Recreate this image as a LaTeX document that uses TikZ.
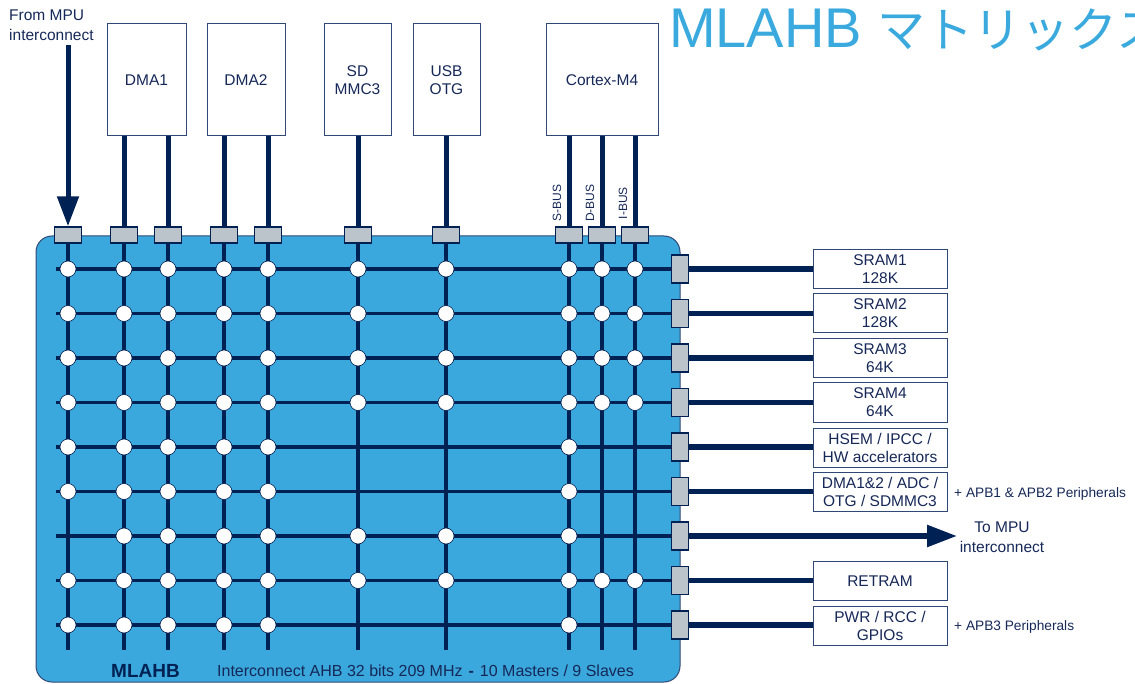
\documentclass[tikz,border=0pt]{standalone}
\usepackage{fontspec}
\setmainfont{Liberation Sans}
\newfontfamily\jpfont{Noto Sans CJK JP}
\usetikzlibrary{arrows.meta}
\definecolor{navy}{RGB}{0,33,84}
\definecolor{mlblue}{RGB}{58,168,220}
\definecolor{portgray}{RGB}{187,196,202}
\definecolor{txtnavy}{RGB}{22,40,88}
\definecolor{boxline}{RGB}{48,72,118}
\definecolor{titleblue}{RGB}{58,170,222}
\pgfdeclarelayer{back}
\pgfdeclarelayer{wires}
\pgfsetlayers{back,wires,main}
\tikzset{
  master/.style={draw=boxline, fill=white, line width=1pt, minimum height=112pt,
    inner sep=0pt, align=center, text=txtnavy, font=\fontsize{15.5}{18.5}\selectfont},
  slave/.style={draw=boxline, fill=white, line width=1pt, minimum width=134pt,
    minimum height=39pt, inner sep=0pt, align=center, text=txtnavy,
    font=\fontsize{15.5}{18}\selectfont},
  mport/.style={draw=navy, fill=portgray, line width=1.4pt, minimum width=27pt,
    minimum height=16pt, inner sep=0pt},
  sport/.style={mport, minimum width=17pt, minimum height=28pt},
  xdot/.style={circle, draw=navy, fill=white, line width=0.6pt, minimum size=16pt,
    inner sep=0pt},
  bus/.style={draw=navy, line width=5pt},
  wire/.style={draw=navy, line width=3.8pt},
  bigtip/.style={-{Triangle[length=30pt,width=21pt]}},
  labeltxt/.style={text=txtnavy, inner sep=0pt, font=\fontsize{15.5}{19.5}\selectfont},
  smalltxt/.style={text=txtnavy, inner sep=0pt, font=\fontsize{13.7}{16}\selectfont},
  buslbl/.style={text=txtnavy, inner sep=0pt, rotate=90, font=\fontsize{12}{14}\selectfont},
}
\begin{document}
\begin{tikzpicture}[x=1pt, y=-1pt]
    \path[use as bounding box, clip] (0,0) rectangle (1135,684);
    % Tiêu đề
    \node[anchor=base west, inner sep=0pt, text=titleblue, font=\fontsize{56}{60}\selectfont]
        (title) at (669,48) {MLAHB {\jpfont\fontsize{48}{50}\selectfont マトリックス}};
    % Các master
    \node[master, minimum width=79pt] (dma1) at (146.5,80) {DMA1};
    \node[master, minimum width=78pt] (dma2) at (246,80) {DMA2};
    \node[master, minimum width=67pt] (sdmmc) at (357.5,80) {SD\\MMC3};
    \node[master, minimum width=67pt] (usb) at (446.5,80) {USB\\OTG};
    \node[master, minimum width=112pt] (cm4) at (602,80) {Cortex-M4};
    \node[labeltxt, anchor=west, align=left] (frommpu) at (9,25) {From MPU\\interconnect};
    \node[buslbl] (sbus) at (557,203) {S-BUS};
    \node[buslbl] (dbus) at (590,203) {D-BUS};
    \node[buslbl] (ibus) at (623,203) {I-BUS};
    % Khung MLAHB
    \begin{pgfonlayer}{back}
        \draw[boxline, fill=mlblue, line width=1pt, rounded corners=16pt] (36,236) rectangle (680,682);
    \end{pgfonlayer}
    \node[anchor=base west, inner sep=0pt, text=navy, font=\bfseries\fontsize{19}{21}\selectfont]
        (mlahb) at (111,677) {MLAHB};
    \node[anchor=base west, inner sep=0pt, text=txtnavy, font=\fontsize{16}{18}\selectfont]
        (info) at (217,676) {Interconnect AHB 32 bits 209 MHz\hspace{6pt}\textbf{-}\hspace{6pt}10 Masters / 9 Slaves};
    % Lưới: cột master, hàng slave
    \foreach \cx [count=\i] in {68,124,168,224,268,358,446,569,602,635} {
        \node[mport] (mp\i) at (\cx,235) {};
        \coordinate (vb\i) at (\cx,650);
        \foreach \ry [count=\j] in {269,313.5,358,402.5,447,491.5,536,580.5,625}
            \coordinate (g\i-\j) at (\cx,\ry);
    }
    \foreach \ry [count=\j] in {269,313.5,358,402.5,447,491.5,536,580.5,625} {
        \node[sport] (sp\j) at (680,\ry) {};
        \coordinate (hs\j) at (56,\ry);
    }
    \begin{pgfonlayer}{wires}
        \foreach \i in {1,...,10} \draw[wire] (mp\i) -- (vb\i);
        \foreach \j in {1,...,9} \draw[wire] (hs\j) -- (sp\j);
    \end{pgfonlayer}
    % Điểm nối
    \foreach \j/\cols in {1/{1,...,10}, 2/{1,...,10}, 3/{1,...,10}, 4/{1,...,10},
        5/{1,2,3,4,5,8}, 6/{1,2,3,4,5,8}, 7/{2,3,4,5,6,7,8}, 8/{1,...,10}, 9/{1,2,3,4,5,8}} {
        \foreach \i in \cols
            \node[xdot] (d\i-\j) at (g\i-\j) {};
    }
    % Bus từ master
    \foreach \i/\m in {2/dma1, 3/dma1, 4/dma2, 5/dma2, 6/sdmmc, 7/usb, 8/cm4, 9/cm4, 10/cm4}
        \draw[bus] (mp\i |- \m.south) -- (mp\i.north);
    \coordinate (mpuin) at (68,45);
    \draw[bus, bigtip] (mpuin) -- (mp1.north);
    % Các slave
    \node[slave] (sram1) at (880,269.5) {SRAM1\\128K};
    \node[slave] (sram2) at (880,313.5) {SRAM2\\128K};
    \node[slave] (sram3) at (880,358.5) {SRAM3\\64K};
    \node[slave] (sram4) at (880,402.5) {SRAM4\\64K};
    \node[slave] (hsem) at (880,447.5) {HSEM / IPCC /\\HW accelerators};
    \node[slave] (apb12) at (880,491.5) {DMA1\&2 / ADC /\\OTG / SDMMC3};
    \node[slave] (retram) at (880,581) {RETRAM};
    \node[slave] (pwr) at (880,625.5) {PWR / RCC /\\GPIOs};
    \foreach \j/\s in {1/sram1, 2/sram2, 3/sram3, 4/sram4, 5/hsem, 6/apb12, 8/retram, 9/pwr}
        \draw[bus, line width=5.5pt] (sp\j.east) -- (sp\j -| \s.west);
    \coordinate (mpuout) at (957,536);
    \draw[bus, line width=5.5pt, bigtip] (sp7.east) -- (mpuout);
    \node[labeltxt, align=center] (tompu) at (1002,537) {To MPU\\interconnect};
    \node[smalltxt, anchor=base west] (apbone) at (954,497) {+ APB1 \& APB2 Peripherals};
    \node[smalltxt, anchor=base west] (apbthree) at (954,630) {+ APB3 Peripherals};
\end{tikzpicture}
\end{document}
